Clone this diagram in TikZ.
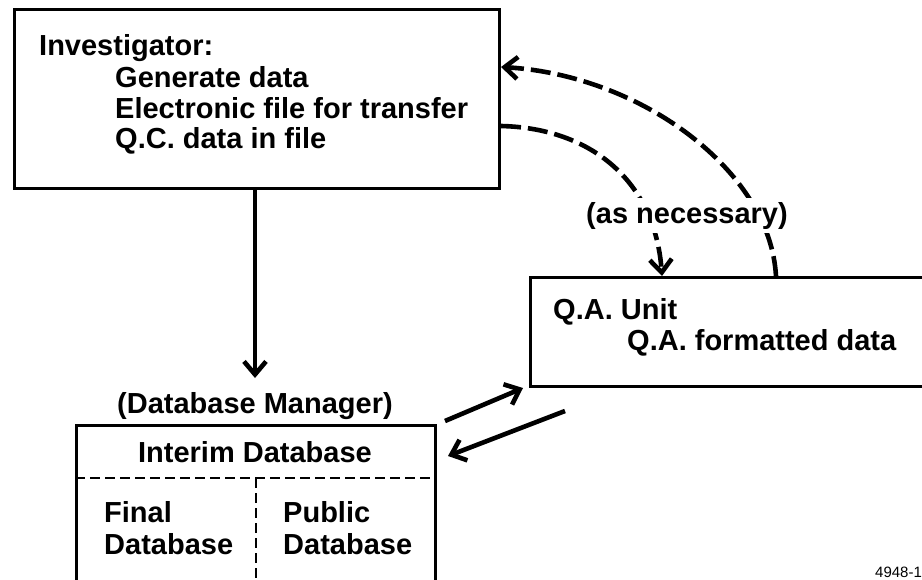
\documentclass[tikz,border=0pt]{standalone}
\usepackage{fontspec}
\setmainfont{Liberation Sans}
\usetikzlibrary{arrows.meta,calc}
\begin{document}
\begin{tikzpicture}[x=1pt,y=-1pt,
  box/.style={draw, line width=3pt, rectangle, inner sep=0pt, anchor=north west},
  txt/.style={inner sep=0pt, anchor=base west, font=\fontsize{29}{31}\selectfont\bfseries},
  conn/.style={line width=4.6pt, -{Straight Barb[length=13pt,width=22pt]}},
  dconn/.style={conn, dash pattern=on 20pt off 7pt},
  divider/.style={line width=2.8pt, dash pattern=on 10pt off 5pt}]
\useasboundingbox (0,0) rectangle (922,579);
\fill[white] (0,0) rectangle (922,579);
\clip (0,0) rectangle (922,579);
% boxes
\node[box, minimum width=485pt, minimum height=179pt] (inv) at (13,8) {};
\node[box, minimum width=420pt, minimum height=109pt] (qa) at (529,276) {};
\node[box, minimum width=359pt, minimum height=200pt] (db) at (75,424) {};
% texts
\node[txt] (invt) at (39,55) {Investigator:};
\node[txt] (inv1) at (115,87) {Generate data};
\node[txt] (inv2) at (115,118) {Electronic file for transfer};
\node[txt] (inv3) at (115,148) {Q.C. data in file};
\node[txt] (qat) at (553,319) {Q.A. Unit};
\node[txt] (qa1) at (627,350) {Q.A. formatted data};
\node[txt, anchor=base] (dbm) at (255,413) {(Database Manager)};
\node[txt, anchor=base] (idb) at (255,462) {Interim Database};
\node[txt] (fdb1) at (104,522) {Final};
\node[txt] (fdb2) at (104,554) {Database};
\node[txt] (pdb1) at (283,522) {Public};
\node[txt] (pdb2) at (283,554) {Database};
\node[inner sep=0pt, anchor=base west, font=\fontsize{15}{15}\selectfont] (code) at (875,577) {4948-1};
% dividers
\coordinate (dsplit) at (db.north |- 0,478);
\draw[divider] (db.west |- dsplit) -- (db.east |- dsplit);
\draw[divider] (dsplit) -- (dsplit |- db.south);
% connectors
\draw[conn] (inv.south -| dbm.base) -- ($(dbm.base)+(0,-35)$);
\draw[conn] ($(db.north east)+(8,-3)$) -- ($(qa.south west)+(-6,0)$);
\draw[conn] ($(qa.south west)+(36,23)$) -- ($(db.north east)+(11,32)$);
\draw[dconn] (inv.east |- 0,126) .. controls (590,128) and (655,180) .. (qa.north -| 662,0);
\draw[dconn] (qa.north -| 776,0) .. controls (770,170) and (640,75) .. (inv.east |- 0,67);
\node[txt, anchor=base, fill=white, inner sep=4pt] (asn) at (687,223) {(as necessary)};
\end{tikzpicture}
\end{document}
